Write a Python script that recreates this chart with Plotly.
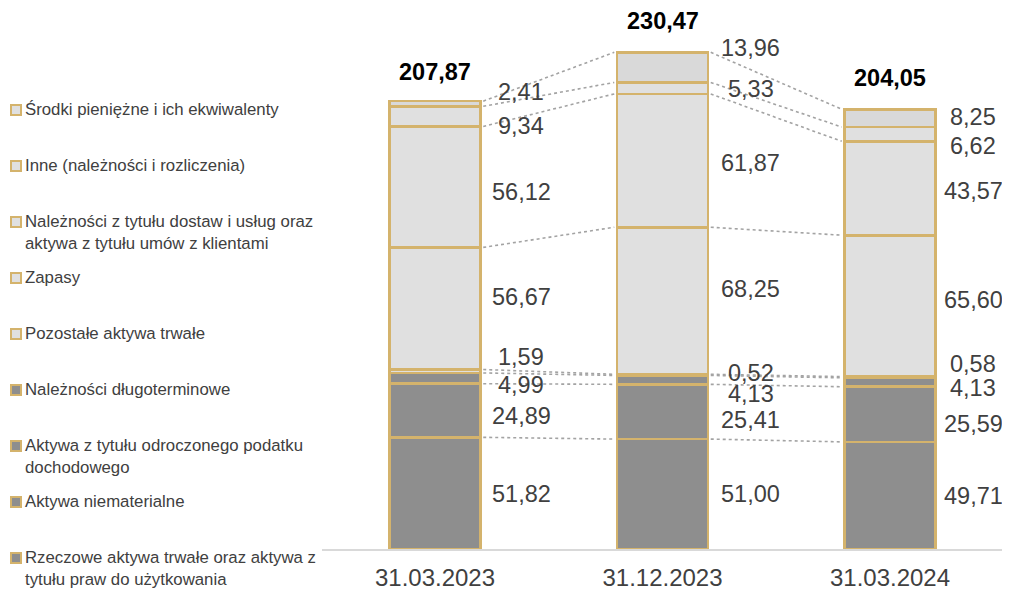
import plotly.graph_objects as go

# ---------------- data ----------------
categories = ["31.03.2023", "31.12.2023", "31.03.2024"]
totals = [207.87, 230.47, 204.05]

# series, bottom -> top of stack
series_names = [
    "Rzeczowe aktywa trwałe oraz aktywa z tytułu praw do użytkowania",
    "Aktywa niematerialne",
    "Aktywa z tytułu odroczonego podatku dochodowego",
    "Należności długoterminowe",
    "Pozostałe aktywa trwałe",
    "Zapasy",
    "Należności z tytułu dostaw i usług oraz aktywa z tytułu umów z klientami",
    "Inne (należności i rozliczenia)",
    "Środki pieniężne i ich ekwiwalenty",
]
legend_labels = [
    "Rzeczowe aktywa trwałe oraz aktywa z<br>tytułu praw do użytkowania",
    "Aktywa niematerialne",
    "Aktywa z tytułu odroczonego podatku<br>dochodowego",
    "Należności długoterminowe",
    "Pozostałe aktywa trwałe",
    "Zapasy",
    "Należności z tytułu dostaw i usług oraz<br>aktywa z tytułu umów z klientami",
    "Inne (należności i rozliczenia)",
    "Środki pieniężne i ich ekwiwalenty",
]
rzeczowe = [51.82, 51.00, 49.71]
niematerialne = [24.89, 25.41, 25.59]
odroczony_podatek = [4.99, 4.13, 4.13]
naleznosci_dlugoterminowe = [0.00, 0.00, 0.00]
pozostale_trwale = [1.59, 0.52, 0.58]
zapasy = [56.67, 68.25, 65.60]
naleznosci_handlowe = [56.12, 61.87, 43.57]
inne = [9.34, 5.33, 6.62]
srodki_pieniezne = [2.41, 13.96, 8.25]

series_values = [rzeczowe, niematerialne, odroczony_podatek, naleznosci_dlugoterminowe,
                 pozostale_trwale, zapasy, naleznosci_handlowe, inne, srodki_pieniezne]

# ---------------- styles ----------------
DARK = "#8e8e8e"
LIGHT = "#e0e0e0"
TOP = "#d9d9d9"
GOLD = "#d4b36c"
TXT = "#404040"
FONT = "Liberation Sans, Arial, sans-serif"
fills = [DARK, DARK, DARK, DARK, LIGHT, LIGHT, LIGHT, LIGHT, TOP]
legend_fills = [DARK, DARK, DARK, DARK, LIGHT, LIGHT, LIGHT, LIGHT, LIGHT]

OFF = 8                      # page body margin of the browser
W, H = 1010 - OFF, 590 - OFF
PLOT_BOTTOM = 549 - OFF      # px of the axis line (figure coords)
X0_PX = 322 - OFF            # left end of x-axis line
BAR_W = 0.4
PX_PER_CAT = 227.5
PX_PER_UNIT = 2.155
FIRST_BAR_PX = 435 - OFF
label_xshift = [86, 88, 83]  # px, label centre right of bar centre
# vertical nudges (px, + = up) for value labels, per bar, per series
label_yshift = [
    [-1, -5.5, -7, 0, 14, 11.5, -5, -9.5, 11.5],
    [0, -8, -14, 0, 2, 12, -2.5, -1, 19],
    [-1, -10, -6, 0, 13, 6, -3, -12, 1],
]
total_yshift = [29, 31, 31]
legend_rows_px = [p - OFF for p in [558, 502, 446, 390, 334, 278, 222, 166, 110]]
LEG_SQ = (11 - OFF, 21 - OFF)
LEG_TX = 24 - OFF

x = list(range(len(categories)))
fig = go.Figure()
for name, vals, col in zip(series_names, series_values, fills):
    fig.add_trace(go.Bar(
        x=x, y=vals, name=name, width=BAR_W,
        marker=dict(color=col, line=dict(color=GOLD, width=2.6)),
        showlegend=False, hoverinfo="y+name",
    ))


def fmt(v):
    return f"{v:.2f}".replace(".", ",")


annotations = []
shapes = []
cums = []
for i in x:
    c, tops, mids = 0.0, [], []
    for vals in series_values:
        mids.append(c + vals[i] / 2)
        c += vals[i]
        tops.append(c)
    cums.append((tops, mids))

for i in x:
    tops, mids = cums[i]
    for k, vals in enumerate(series_values):
        if vals[i] == 0:
            continue
        annotations.append(dict(
            x=i, y=mids[k], xref="x", yref="y", text=fmt(vals[i]), showarrow=False,
            xshift=label_xshift[i], yshift=label_yshift[i][k],
            font=dict(family=FONT, size=23.5, color=TXT), xanchor="center", yanchor="middle",
        ))
    annotations.append(dict(
        x=i, y=tops[-1], xref="x", yref="y", text="<b>" + fmt(totals[i]) + "</b>",
        showarrow=False, yshift=total_yshift[i], font=dict(family=FONT, size=23.5, color="#000000"),
        xanchor="center", yanchor="middle",
    ))

# dotted connectors between adjacent bars
for i in x[:-1]:
    t0 = cums[i][0]
    t1 = cums[i + 1][0]
    for k, vals in enumerate(series_values):
        if vals[i] == 0 and vals[i + 1] == 0:
            continue
        shapes.append(dict(
            type="line", xref="x", yref="y",
            x0=i + BAR_W / 2 + 0.012, y0=t0[k], x1=i + 1 - BAR_W / 2 - 0.012, y1=t1[k],
            line=dict(color="#a3a3a3", width=1.6, dash="dot"), layer="below",
        ))

# manual legend
for k, lab in enumerate(legend_labels):
    cy = legend_rows_px[k]
    shapes.append(dict(
        type="rect", xref="paper", yref="paper",
        x0=LEG_SQ[0] / W, x1=LEG_SQ[1] / W,
        y0=1 - (cy + 5) / PLOT_BOTTOM, y1=1 - (cy - 5) / PLOT_BOTTOM,
        fillcolor=legend_fills[k], line=dict(color=GOLD, width=2),
    ))
    annotations.append(dict(
        x=LEG_TX / W, y=1 - (cy - 11) / PLOT_BOTTOM, xref="paper", yref="paper",
        text=lab, showarrow=False, xanchor="left", yanchor="top", align="left",
        borderpad=0, font=dict(family=FONT, size=16.8, color=TXT),
    ))

fig.update_layout(
    width=W, height=H,
    margin=dict(l=0, r=0, t=0, b=H - PLOT_BOTTOM),
    barmode="stack",
    paper_bgcolor="white", plot_bgcolor="white",
    annotations=annotations, shapes=shapes,
    showlegend=False,
    xaxis=dict(
        domain=[X0_PX / W, 1],
        range=[-(FIRST_BAR_PX - X0_PX) / PX_PER_CAT, 2 + (W - (FIRST_BAR_PX + 2 * PX_PER_CAT)) / PX_PER_CAT],
        tickmode="array", tickvals=x, ticktext=categories,
        showline=True, linecolor="#d9d9d9", linewidth=1.5, showgrid=False, zeroline=False,
        ticks="", ticklabelstandoff=6, tickfont=dict(family=FONT, size=24, color=TXT),
    ),
    yaxis=dict(range=[0, PLOT_BOTTOM / PX_PER_UNIT], visible=False, showgrid=False, zeroline=False),
)

fig.write_html("out.html")
